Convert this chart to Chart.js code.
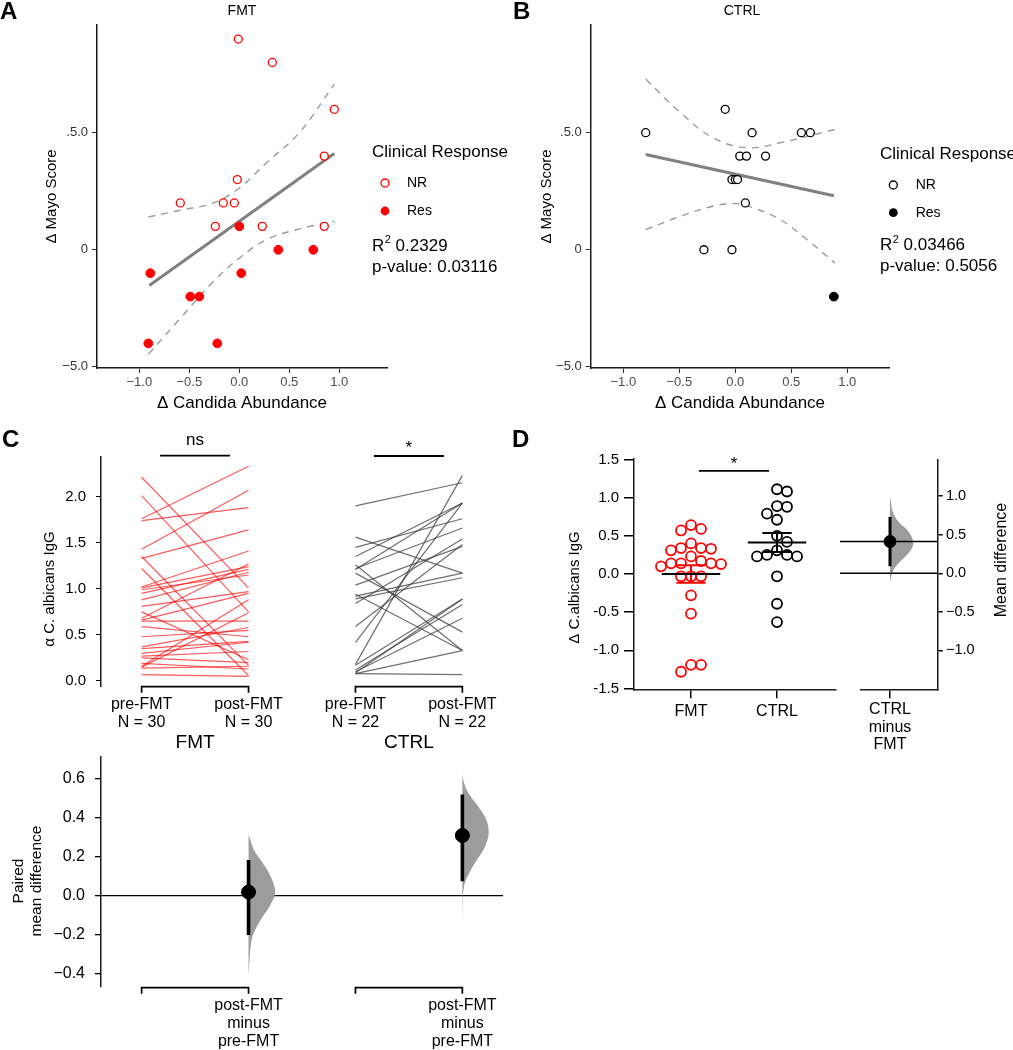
<!DOCTYPE html>
<html>
<head>
<meta charset="utf-8">
<script src="https://cdn.jsdelivr.net/npm/chart.js@4.4.1/dist/chart.umd.min.js"></script>
<style>
  body { margin: 0; background: #fff; width: 1013px; height: 1050px; position: relative; overflow: hidden; }
  canvas { position: absolute; }
</style>
</head>
<body>
<canvas id="chartA" width="540" height="425" style="left:0;top:0"></canvas>
<canvas id="chartB" width="513" height="425" style="left:500px;top:0"></canvas>
<canvas id="chartC1" width="535" height="320" style="left:0;top:425px"></canvas>
<canvas id="chartC2" width="520" height="320" style="left:0;top:730px"></canvas>
<canvas id="chartD1" width="320" height="340" style="left:530px;top:425px"></canvas>
<canvas id="chartD2" width="173" height="340" style="left:840px;top:425px"></canvas>
<script>
const FONT = "'Liberation Sans', Arial, Helvetica, sans-serif";

// ---- A: FMT, change in Candida abundance vs change in Mayo score ----
const aNrX = [-0.01, 0.33, 0.95, 0.85, -0.02, -0.59, -0.16, -0.05, -0.24, 0.23, 0.85];
const aNrY = [9, 8, 6, 4, 3, 2, 2, 2, 1, 1, 1];
const aResX = [0.0, 0.39, 0.74, -0.89, 0.02, -0.49, -0.40, -0.91, -0.22];
const aResY = [1, 0, 0, -1, -1, -2, -2, -4, -4];
const aFitX = [-0.9, 0.95];
const aFitY = [-1.53, 4.11];
const aBandX = [-0.91, -0.59, -0.26, 0, 0.27, 0.6, 0.95];
const aUpper = [1.4, 1.69, 2.0, 2.64, 3.71, 5.0, 7.07];
const aLower = [-4.46, -2.93, -1.36, -0.36, 0.43, 0.89, 1.21];

// ---- B: CTRL ----
const bNrX = [-0.80, -0.09, 0.15, 0.59, 0.67, 0.04, 0.10, 0.27, -0.03, 0.0, 0.02, 0.09, -0.28, -0.03];
const bNrY = [5, 6, 5, 5, 5, 4, 4, 4, 3, 3, 3, 2, 0, 0];
const bResX = [0.88];
const bResY = [-2];
const bFitX = [-0.8, 0.88];
const bFitY = [4.07, 2.31];
const bUpX = [-0.80, -0.49, -0.20, 0.10, 0.40, 0.89];
const bUpper = [7.29, 5.86, 4.79, 4.36, 4.57, 5.14];
const bLoX = [-0.80, -0.49, -0.20, 0.0, 0.16, 0.40, 0.64, 0.89];
const bLower = [0.86, 1.43, 1.86, 1.97, 1.79, 1.29, 0.43, -0.57];

const mayoTicks = { '-5': '−5.0', '0': '0', '5': '.5.0' };
const candidaTicks = [-1, -0.5, 0, 0.5, 1];

// ---- C: paired anti-C. albicans IgG ----
const pairLabels = ['pre-FMT', 'post-FMT'];
const fmtPre = [2.21, 2.01, 1.76, 1.74, 1.43, 1.35, 1.33, 1.22, 1.02, 1.01, 0.99, 0.95, 0.88, 0.81, 0.75,
  0.68, 0.66, 0.65, 0.59, 0.48, 0.37, 0.35, 0.30, 0.27, 0.25, 0.19, 0.16, 0.15, 0.14, 0.07];
const fmtPost = [1.01, 0.75, 2.33, 1.88, 2.07, 0.17, 1.64, 0.06, 1.41, 1.24, 1.15, 1.21, 1.18, 0.97, 0.23,
  1.27, 0.95, 0.65, 0.48, 0.55, 0.58, 0.43, 0.42, 0.32, 0.20, 0.13, 0.88, 0.74, 0.16, 0.05];
const ctrlPre = [1.90, 1.56, 1.45, 1.35, 1.26, 1.22, 1.21, 1.17, 1.04, 0.94, 0.92, 0.89, 0.84, 0.59, 0.42,
  0.18, 0.17, 0.12, 0.10, 0.09, 0.08, 0.08];
const ctrlPost = [2.15, 1.17, 1.76, 1.93, 0.33, 1.66, 1.93, 0.53, 1.46, 0.33, 1.17, 1.12, 1.54, 1.48, 1.93,
  2.23, 0.89, 0.83, 0.68, 0.89, 0.33, 0.07];

// paired mean difference (post minus pre) with 95% CI
const effMean = [0.02, 0.31];
const effLow = [-0.20, 0.075];
const effHigh = [0.185, 0.52];
const fmtDistY = [0.31, 0.30, 0.24, 0.175, 0.107, 0.02, -0.05, -0.10, -0.15, -0.22, -0.31, -0.41];
const fmtDistW = [0, 0.01, 0.047, 0.125, 0.2, 0.25, 0.2, 0.14, 0.084, 0.03, 0.012, 0];
const ctrlDistY = [0.66, 0.60, 0.53, 0.46, 0.39, 0.32, 0.25, 0.18, 0.115, 0.065, 0.0, -0.14];
const ctrlDistW = [0, 0.006, 0.053, 0.147, 0.225, 0.246, 0.21, 0.13, 0.062, 0.022, 0.006, 0];

// ---- D: change in IgG per group ----
const dGroups = ['FMT', 'CTRL'];
const dFmt = [0.64, 0.57, 0.59, 0.40, 0.34, 0.33, 0.34, 0.31, 0.23, 0.17, 0.14, 0.14, 0.13, 0.14, 0.10,
  -0.03, -0.03, -0.03, -0.28, -0.52, -1.28, -1.19, -1.19];
const dCtrl = [1.11, 1.08, 0.89, 0.88, 0.79, 0.71, 0.50, 0.42, 0.31, 0.23, 0.25, 0.23, 0.25, -0.03, -0.39, -0.63];
const mdLow = 0.09;
const mdHigh = 0.73;
const mdDistY = [0.99, 0.95, 0.80, 0.67, 0.54, 0.39, 0.26, 0.15, 0.04, -0.11];
const mdDistW = [0, 0.013, 0.053, 0.167, 0.367, 0.467, 0.367, 0.2, 0.067, 0];

Chart.defaults.font.family = FONT;
Chart.defaults.color = '#000';
Chart.defaults.animation = false;
Chart.defaults.responsive = false;
Chart.defaults.plugins.legend.display = false;
Chart.defaults.plugins.tooltip.enabled = false;

const pts = (xs, ys) => xs.map((x, i) => ({ x, y: ys[i] }));
const signed = (v, d) => (v < 0 ? '−' : '') + Math.abs(v).toFixed(d);
const mean = a => a.reduce((s, v) => s + v, 0) / a.length;
const sem = a => {
  const m = mean(a);
  return Math.sqrt(a.reduce((s, v) => s + (v - m) ** 2, 0) / (a.length - 1)) / Math.sqrt(a.length);
};

function txt(ctx, s, x, y, size, o = {}) {
  ctx.save();
  ctx.font = (o.bold ? 'bold ' : '') + size + 'px ' + FONT;
  ctx.fillStyle = o.color || '#000';
  ctx.textAlign = o.align || 'center';
  ctx.textBaseline = 'middle';
  ctx.translate(x, y);
  if (o.rot) ctx.rotate(o.rot);
  ctx.fillText(s, 0, 0);
  ctx.restore();
}

function hline(ctx, x1, x2, y, w) {
  ctx.save();
  ctx.strokeStyle = '#000';
  ctx.lineWidth = w || 1.6;
  ctx.beginPath(); ctx.moveTo(x1, y); ctx.lineTo(x2, y); ctx.stroke();
  ctx.restore();
}

function bracket(ctx, x1, x2, y) {
  ctx.save();
  ctx.strokeStyle = '#000';
  ctx.lineWidth = 1.7;
  ctx.beginPath();
  ctx.moveTo(x1, y + 6); ctx.lineTo(x1, y); ctx.lineTo(x2, y); ctx.lineTo(x2, y + 6);
  ctx.stroke();
  ctx.restore();
}

function legendBlock(ctx, x0, sx, lx, color, r2, pv, ys) {
  txt(ctx, 'Clinical Response', x0, ys[0], 17, { align: 'left' });
  ctx.save();
  ctx.lineWidth = 1.3;
  ctx.strokeStyle = color;
  ctx.fillStyle = '#fff';
  ctx.beginPath(); ctx.arc(sx, ys[1], 4, 0, Math.PI * 2); ctx.fill(); ctx.stroke();
  ctx.fillStyle = color;
  ctx.beginPath(); ctx.arc(sx, ys[2], 4.4, 0, Math.PI * 2); ctx.fill();
  ctx.restore();
  txt(ctx, 'NR', lx, ys[1], 14, { align: 'left' });
  txt(ctx, 'Res', lx, ys[2], 14, { align: 'left' });
  ctx.save();
  ctx.font = '17px ' + FONT;
  const rw = ctx.measureText('R').width;
  ctx.font = '11px ' + FONT;
  const sw = ctx.measureText('2').width;
  ctx.restore();
  txt(ctx, 'R', x0, ys[3], 17, { align: 'left' });
  txt(ctx, '2', x0 + rw + 0.5, ys[3] - 6, 11, { align: 'left' });
  txt(ctx, ' ' + r2, x0 + rw + sw + 0.5, ys[3], 17, { align: 'left' });
  txt(ctx, 'p-value: ' + pv, x0, ys[4], 17, { align: 'left' });
}

const axisBorder = { color: '#1a1a1a', width: 1.5 };

function regPanel(id, p) {
  return new Chart(document.getElementById(id), {
    type: 'scatter',
    data: {
      datasets: [
        { data: pts(p.nrX, p.nrY), pointRadius: 4, pointBorderWidth: 1.3, borderColor: p.color, backgroundColor: '#fff' },
        { data: pts(p.resX, p.resY), pointRadius: 4.4, pointBorderWidth: 1, borderColor: p.color, backgroundColor: p.color },
        { data: pts(p.fitX, p.fitY), showLine: true, pointRadius: 0, borderColor: '#808080', borderWidth: 3 },
        { data: pts(p.upX, p.up), showLine: true, pointRadius: 0, borderColor: '#9a9a9a', borderWidth: 1.4, borderDash: [7, 6], tension: 0.4 },
        { data: pts(p.loX, p.lo), showLine: true, pointRadius: 0, borderColor: '#9a9a9a', borderWidth: 1.4, borderDash: [7, 6], tension: 0.4 }
      ]
    },
    options: {
      layout: { padding: { left: 0, top: 25, right: p.padR, bottom: 0 } },
      scales: {
        x: {
          type: 'linear', min: p.xMin, max: p.xMax,
          afterFit: s => { s.height = 57; },
          afterBuildTicks: s => { s.ticks = candidaTicks.map(value => ({ value })); },
          border: axisBorder,
          grid: { drawOnChartArea: false, tickLength: 5, tickColor: '#333' },
          ticks: { padding: 2, color: '#4d4d4d', font: { size: 13 }, maxRotation: 0, callback: v => signed(v, 1) },
          title: { display: true, text: 'Δ Candida Abundance', font: { size: 17 }, padding: { top: 0, bottom: 11.8 } }
        },
        y: {
          type: 'linear', min: -5.05, max: 9.6,
          afterFit: s => { s.width = p.yW; },
          afterBuildTicks: s => { s.ticks = [-5, 0, 5].map(value => ({ value })); },
          border: axisBorder,
          grid: { drawOnChartArea: false, tickLength: 5, tickColor: '#333' },
          ticks: { padding: 4, color: '#333', font: { size: 13 }, callback: v => mayoTicks[v] },
          title: { display: true, text: 'Δ Mayo Score', font: { size: 15 }, padding: { top: p.yTitlePad, bottom: 0 } }
        }
      }
    },
    plugins: [{ id: 'notes', afterDraw: p.notes }]
  });
}

regPanel('chartA', {
  color: '#ff0000', nrX: aNrX, nrY: aNrY, resX: aResX, resY: aResY,
  fitX: aFitX, fitY: aFitY, upX: aBandX, up: aUpper, loX: aBandX, lo: aLower,
  xMin: -1.423, xMax: 1.477, padR: 153, yW: 97, yTitlePad: 43,
  notes: chart => {
    const ctx = chart.ctx;
    txt(ctx, 'A', 0, 12, 24, { bold: true, align: 'left' });
    txt(ctx, 'FMT', 242, 11, 14);
    legendBlock(ctx, 372, 385, 407, '#ff0000', '0.2329', '0.03116', [152, 183, 211, 246, 267]);
  }
});

regPanel('chartB', {
  color: '#000', nrX: bNrX, nrY: bNrY, resX: bResX, resY: bResY,
  fitX: bFitX, fitY: bFitY, upX: bUpX, up: bUpper, loX: bLoX, lo: bLower,
  xMin: -1.291, xMax: 1.375, padR: 123.7, yW: 90.7, yTitlePad: 37.7,
  notes: chart => {
    const ctx = chart.ctx;
    txt(ctx, 'B', 13, 12, 24, { bold: true, align: 'left' });
    txt(ctx, 'CTRL', 242, 11, 14);
    legendBlock(ctx, 380, 393.3, 415.7, '#000', '0.03466', '0.5056', [154, 185, 212.7, 245.7, 266.7]);
  }
});

// ---- C (top): paired lines ----
const pairSets = [
  ...fmtPre.map((v, i) => ({ data: [{ x: 0, y: v }, { x: 1, y: fmtPost[i] }], borderColor: 'rgba(255,0,0,0.65)' })),
  ...ctrlPre.map((v, i) => ({ data: [{ x: 2, y: v }, { x: 3, y: ctrlPost[i] }], borderColor: 'rgba(55,55,55,0.72)' }))
].map(d => Object.assign(d, { showLine: true, pointRadius: 0, borderWidth: 1.2 }));

const groupX = { min: -0.38, max: 3.38 };

new Chart(document.getElementById('chartC1'), {
  type: 'scatter',
  data: { datasets: pairSets },
  options: {
    layout: { padding: { left: 0, top: 31.7, right: 32, bottom: 0 } },
    scales: {
      x: {
        type: 'linear', min: groupX.min, max: groupX.max,
        afterFit: s => { s.height = 58.3; },
        afterBuildTicks: s => { s.ticks = [0, 1, 2, 3].map(value => ({ value })); },
        border: { display: false },
        grid: { display: false, drawTicks: false },
        ticks: {
          padding: 9.3, font: { size: 16, lineHeight: 1.125 }, maxRotation: 0, autoSkip: false,
          callback: v => [pairLabels[v % 2], 'N = ' + (v < 2 ? fmtPre.length : ctrlPre.length)]
        }
      },
      y: {
        type: 'linear', min: -0.062, max: 2.433,
        afterFit: s => { s.width = 101; },
        afterBuildTicks: s => { s.ticks = [0, 0.5, 1, 1.5, 2].map(value => ({ value })); },
        border: axisBorder,
        grid: { drawOnChartArea: false, tickLength: 5, tickColor: '#000' },
        ticks: { padding: 10, font: { size: 15 }, callback: v => v.toFixed(1) }
      }
    }
  },
  plugins: [{
    id: 'notes',
    afterDraw: chart => {
      const { ctx, scales: { x }, chartArea: a } = chart;
      txt(ctx, 'C', 2, 15, 24, { bold: true, align: 'left' });
      txt(ctx, 'D', 512, 15, 24, { bold: true, align: 'left' });
      bracket(ctx, x.getPixelForValue(0), x.getPixelForValue(1), a.bottom);
      bracket(ctx, x.getPixelForValue(2), x.getPixelForValue(3), a.bottom);
      const c1 = x.getPixelForValue(0.5), c2 = x.getPixelForValue(2.5);
      hline(ctx, c1 - 35, c1 + 35, 30.7, 1.8);
      hline(ctx, c2 - 35, c2 + 35, 31, 1.8);
      txt(ctx, 'ns', c1, 15, 17);
      txt(ctx, '*', c2, 23, 17);
      txt(ctx, 'α C. albicans IgG', 50, 164, 15, { rot: -Math.PI / 2 });
    }
  }]
});

// ---- C (bottom): paired mean difference ----
const distShape = (base, ys, ws) => ys.map((y, i) => ({ x: base + ws[i], y }));
const effSets = [];
effMean.forEach((m, g) => {
  const gx = 2 * g + 1;
  effSets.push({ data: [{ x: gx, y: m }], pointRadius: 7, backgroundColor: '#000', borderColor: '#000' });
  effSets.push({ data: [{ x: gx, y: effLow[g] }, { x: gx, y: effHigh[g] }], showLine: true, pointRadius: 0, borderColor: '#000', borderWidth: 3.6 });
});
effSets.push({
  data: distShape(1, fmtDistY, fmtDistW), showLine: true, fill: 'shape', tension: 0.35,
  pointRadius: 0, borderColor: 'rgba(0,0,0,0)', backgroundColor: '#9c9c9c'
});
effSets.push({
  data: distShape(3, ctrlDistY, ctrlDistW), showLine: true, fill: 'shape', tension: 0.35,
  pointRadius: 0, borderColor: 'rgba(0,0,0,0)', backgroundColor: '#9c9c9c'
});

new Chart(document.getElementById('chartC2'), {
  type: 'scatter',
  data: { datasets: effSets },
  options: {
    layout: { padding: { left: 0, top: 26.7, right: 17, bottom: 0 } },
    scales: {
      x: {
        type: 'linear', min: groupX.min, max: groupX.max,
        afterFit: s => { s.height = 63.3; },
        afterBuildTicks: s => { s.ticks = [1, 3].map(value => ({ value })); },
        border: { display: false },
        grid: { display: false, drawTicks: false },
        ticks: {
          padding: 10.3, font: { size: 16, lineHeight: 1.125 }, maxRotation: 0, autoSkip: false,
          callback: () => [pairLabels[1], 'minus', pairLabels[0]]
        }
      },
      y: {
        type: 'linear', min: -0.465, max: 0.714,
        afterFit: s => { s.width = 101; },
        afterBuildTicks: s => { s.ticks = [-0.4, -0.2, 0, 0.2, 0.4, 0.6].map(value => ({ value })); },
        border: axisBorder,
        grid: {
          drawOnChartArea: true, tickLength: 6, tickColor: '#000', lineWidth: 1.3,
          color: c => (c.tick && c.tick.value === 0 ? '#000' : 'rgba(0,0,0,0)')
        },
        ticks: { padding: 10, font: { size: 16 }, callback: v => signed(v, 1) }
      }
    }
  },
  plugins: [{
    id: 'notes',
    afterDraw: chart => {
      const { ctx, scales: { x }, chartArea: a } = chart;
      bracket(ctx, x.getPixelForValue(0), x.getPixelForValue(1), a.bottom + 1);
      bracket(ctx, x.getPixelForValue(2), x.getPixelForValue(3), a.bottom + 1);
      txt(ctx, 'FMT', x.getPixelForValue(0.5), 13, 19);
      txt(ctx, 'CTRL', x.getPixelForValue(2.5), 13, 19);
      txt(ctx, 'Paired', 18.3, 151, 15.5, { rot: -Math.PI / 2 });
      txt(ctx, 'mean difference', 36.7, 151, 15.5, { rot: -Math.PI / 2 });
    }
  }]
});

// ---- D (left): swarm with mean ± SEM ----
const dX = { min: 0.337, max: 2.686, px: 202 };
const dY = { min: -1.51, max: 1.515, px: 231 };

function swarm(vals, center, d) {
  const pxX = dX.px / (dX.max - dX.min);
  const pxY = dY.px / (dY.max - dY.min);
  const order = vals.map((_, i) => i).sort((i, j) => vals[j] - vals[i]);
  const placed = [];
  const xs = [];
  order.forEach(i => {
    const py = vals[i] * pxY;
    for (let k = 0; k < 200; k++) {
      const off = (k % 2 ? 1 : -1) * Math.ceil(k / 2) * d / 2;
      if (placed.every(p => (p.x - off) ** 2 + (p.y - py) ** 2 >= d * d)) {
        placed.push({ x: off, y: py });
        xs[i] = center + off / pxX;
        break;
      }
    }
  });
  return xs;
}

const dSeries = [dFmt, dCtrl];
const dColors = ['#ff0000', '#000'];
const dSets = [];
dSeries.forEach((vals, g) => {
  const gx = g + 1;
  const m = mean(vals), se = sem(vals);
  const col = dColors[g];
  const seg = (x1, y1, x2, y2, c) => ({ data: [{ x: x1, y: y1 }, { x: x2, y: y2 }], showLine: true, pointRadius: 0, borderColor: c, borderWidth: 2 });
  dSets.push(seg(gx - 0.34, m, gx + 0.34, m, '#000'));
  dSets.push(seg(gx, m - se, gx, m + se, col));
  dSets.push(seg(gx - 0.17, m - se, gx + 0.17, m - se, col));
  dSets.push(seg(gx - 0.17, m + se, gx + 0.17, m + se, col));
});
dSeries.forEach((vals, g) => {
  const xs = swarm(vals, g + 1, 10);
  dSets.push({ data: pts(xs, vals), pointRadius: 5, pointBorderWidth: 1.8, borderColor: dColors[g], backgroundColor: 'rgba(255,255,255,0)' });
});

new Chart(document.getElementById('chartD1'), {
  type: 'scatter',
  data: { datasets: dSets },
  options: {
    layout: { padding: { left: 0, top: 33.3, right: 14, bottom: 0 } },
    scales: {
      x: {
        type: 'linear', min: dX.min, max: dX.max,
        afterFit: s => { s.height = 75.7; },
        afterBuildTicks: s => { s.ticks = [1, 2].map(value => ({ value })); },
        border: axisBorder,
        grid: { drawOnChartArea: false, tickLength: 9, tickColor: '#000', lineWidth: 1.5 },
        ticks: { padding: 4, font: { size: 16 }, maxRotation: 0, autoSkip: false, callback: v => dGroups[v - 1] }
      },
      y: {
        type: 'linear', min: dY.min, max: dY.max,
        afterFit: s => { s.width = 104; },
        afterBuildTicks: s => { s.ticks = [-1.5, -1, -0.5, 0, 0.5, 1, 1.5].map(value => ({ value })); },
        border: axisBorder,
        grid: { drawOnChartArea: false, tickLength: 10, tickColor: '#000', lineWidth: 1.5 },
        ticks: { padding: 5, font: { size: 15 }, callback: v => v.toFixed(1) }
      }
    }
  },
  plugins: [{
    id: 'notes',
    afterDraw: chart => {
      const { ctx, scales: { x, y } } = chart;
      const yb = y.getPixelForValue(1.35);
      hline(ctx, x.getPixelForValue(1) + 8, x.getPixelForValue(2) - 8, yb, 1.8);
      txt(ctx, '*', (x.getPixelForValue(1) + x.getPixelForValue(2)) / 2, yb - 7, 17);
      txt(ctx, 'Δ C.albicans IgG', 45, 162.5, 15, { rot: -Math.PI / 2 });
    }
  }]
});

// ---- D (right): mean difference CTRL minus FMT ----
const md = mean(dCtrl) - mean(dFmt);
const mdX = { min: -0.586, max: 0.954 };
new Chart(document.getElementById('chartD2'), {
  type: 'scatter',
  data: {
    datasets: [
      { data: [{ x: 0, y: md }], pointRadius: 6, backgroundColor: '#000', borderColor: '#000' },
      { data: [{ x: 0, y: mdLow }, { x: 0, y: mdHigh }], showLine: true, pointRadius: 0, borderColor: '#000', borderWidth: 3 },
      { data: [{ x: -1, y: md }, { x: mdX.max, y: md }], showLine: true, pointRadius: 0, borderColor: '#000', borderWidth: 1.5, clip: false },
      { data: [{ x: -1, y: 0 }, { x: mdX.max, y: 0 }], showLine: true, pointRadius: 0, borderColor: '#000', borderWidth: 1.5, clip: false },
      {
        data: distShape(0, mdDistY, mdDistW), showLine: true, fill: 'shape', tension: 0.35,
        pointRadius: 0, borderColor: 'rgba(0,0,0,0)', backgroundColor: '#9c9c9c'
      }
    ]
  },
  options: {
    layout: { padding: { left: 20.7, top: 35, right: 0, bottom: 0 } },
    scales: {
      x: {
        type: 'linear', min: mdX.min, max: mdX.max,
        afterFit: s => { s.height = 75.7; },
        afterBuildTicks: s => { s.ticks = [{ value: 0 }]; },
        border: axisBorder,
        grid: { drawOnChartArea: false, tickLength: 9, tickColor: '#000', lineWidth: 1.5 },
        ticks: {
          padding: 2.7, font: { size: 16, lineHeight: 1.1 }, maxRotation: 0, autoSkip: false,
          callback: () => [dGroups[1], 'minus', dGroups[0]]
        }
      },
      y: {
        type: 'linear', position: 'right', min: -1.503, max: 1.468,
        afterFit: s => { s.width = 75.3; },
        afterBuildTicks: s => { s.ticks = [-1, -0.5, 0, 0.5, 1].map(value => ({ value })); },
        border: axisBorder,
        grid: { drawOnChartArea: false, tickLength: 5, tickColor: '#000', lineWidth: 1.5 },
        ticks: { padding: 3.3, font: { size: 14.5 }, callback: v => signed(v, 1) }
      }
    }
  },
  plugins: [{
    id: 'notes',
    afterDraw: chart => {
      txt(chart.ctx, 'Mean difference', 161.7, 135, 16, { rot: -Math.PI / 2 });
    }
  }]
});
</script>
</body>
</html>
